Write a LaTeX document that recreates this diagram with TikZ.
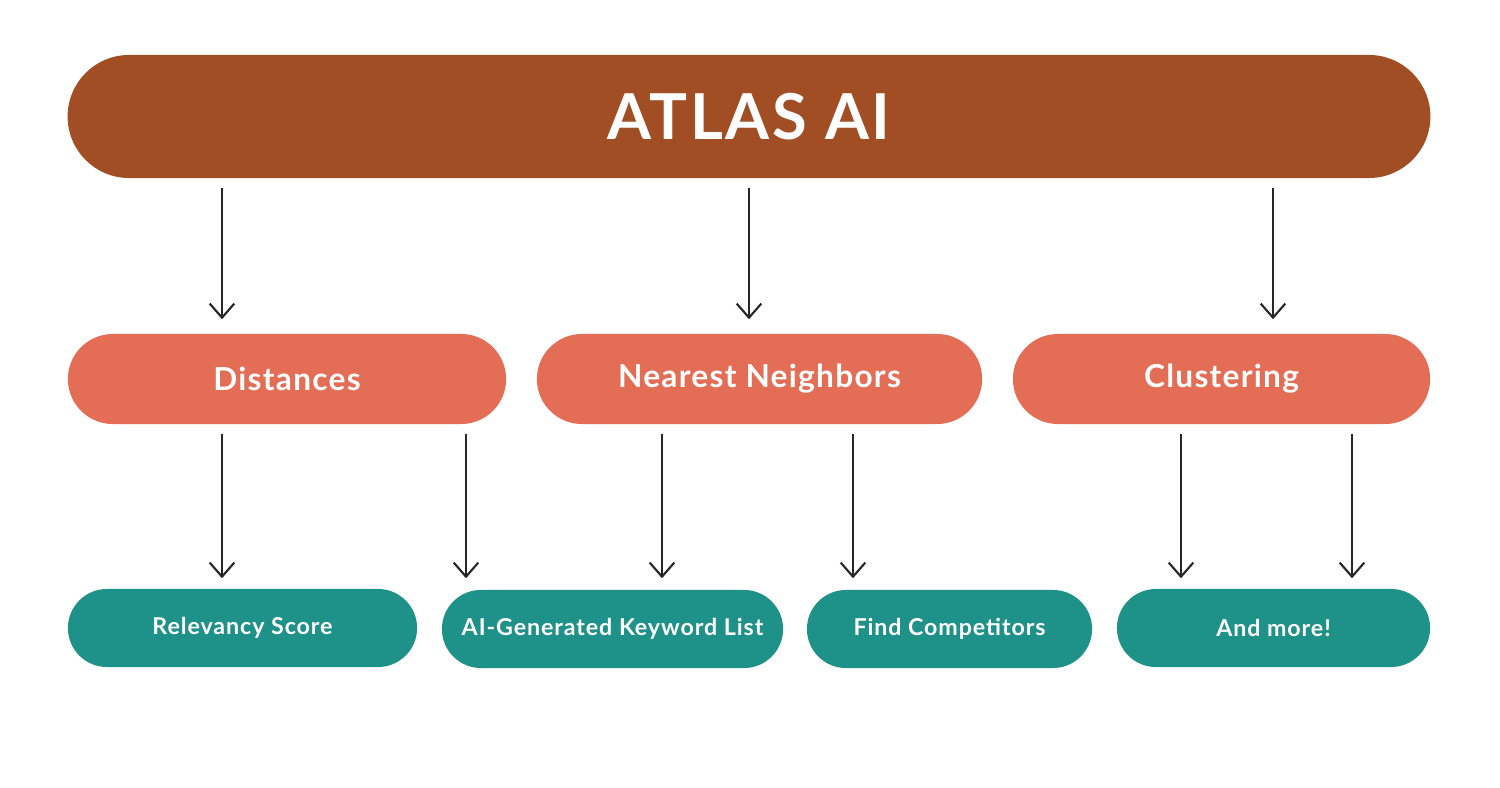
\documentclass[tikz,border=0pt]{standalone}
\usepackage{fontspec}
\setmainfont{Lato}[LetterSpace=4]
\usetikzlibrary{arrows.meta,calc}
\definecolor{atlasbrown}{HTML}{A24E25}
\definecolor{midred}{HTML}{E36D55}
\definecolor{lowteal}{HTML}{1E9188}
\tikzset{
  pill/.style={rectangle, rounded corners=#1, draw=none, text=white, font=\bfseries, inner sep=0pt},
  arr/.style={-{Straight Barb[length=4pt,width=7pt]}, line width=0.6pt, color=black!85}
}
\begin{document}
\begin{tikzpicture}[x=0.01cm,y=-0.01cm]
  \useasboundingbox[fill=white] (0,0) rectangle (1500,788);

  % top node
  \node[pill=0.615cm, fill=atlasbrown, minimum width=13.62cm, minimum height=1.23cm, font=\bfseries\fontsize{18}{20}\selectfont](atlas) at (749,116.5){ATLAS AI};

  % middle nodes
  \node[pill=0.45cm, fill=midred, minimum width=4.38cm, minimum height=0.9cm, font=\bfseries\fontsize{9}{10}\selectfont](dist) at (287,379){Distances};
  \node[pill=0.45cm, fill=midred, minimum width=4.45cm, minimum height=0.9cm, font=\bfseries\fontsize{9}{10}\selectfont](near) at (759.5,379){Nearest Neighbors};
  \node[pill=0.45cm, fill=midred, minimum width=4.17cm, minimum height=0.9cm, font=\bfseries\fontsize{9}{10}\selectfont](clus) at (1221.5,379){Clustering};

  % bottom nodes
  \node[pill=0.39cm, fill=lowteal, minimum width=3.49cm, minimum height=0.78cm, font=\bfseries\fontsize{6.6}{8}\selectfont](relev) at (242.5,628){Relevancy Score};
  \node[pill=0.39cm, fill=lowteal, minimum width=3.41cm, minimum height=0.78cm, font=\bfseries\fontsize{6.6}{8}\selectfont](keyw) at (612.5,629){AI-Generated Keyword List};
  \node[pill=0.39cm, fill=lowteal, minimum width=2.85cm, minimum height=0.78cm, font=\bfseries\fontsize{6.6}{8}\selectfont](comp) at (949.5,629){Find Competitors};
  \node[pill=0.39cm, fill=lowteal, minimum width=3.13cm, minimum height=0.78cm, font=\bfseries\fontsize{6.6}{8}\selectfont](more) at (1273.5,628){And more!};

  % draw top edges
  \draw[arr, shorten <=0.09cm, shorten >=0.14cm] (atlas.south -| 222,0) -- (dist.north -| 222,0);
  \draw[arr, shorten <=0.09cm, shorten >=0.14cm] (atlas.south -| 749,0) -- (near.north -| 749,0);
  \draw[arr, shorten <=0.09cm, shorten >=0.14cm] (atlas.south -| 1273,0) -- (clus.north -| 1273,0);

  % draw bottom edges
  \draw[arr, shorten <=0.09cm, shorten >=0.10cm] (dist.south -| 222,0) -- (relev.north -| 222,0);
  \draw[arr, shorten <=0.09cm, shorten >=0.11cm] (dist.south -| 466,0) -- (keyw.north -| 466,0);
  \draw[arr, shorten <=0.09cm, shorten >=0.11cm] (near.south -| 662,0) -- (keyw.north -| 662,0);
  \draw[arr, shorten <=0.09cm, shorten >=0.11cm] (near.south -| 853,0) -- (comp.north -| 853,0);
  \draw[arr, shorten <=0.09cm, shorten >=0.10cm] (clus.south -| 1181,0) -- (more.north -| 1181,0);
  \draw[arr, shorten <=0.09cm, shorten >=0.10cm] (clus.south -| 1352,0) -- (more.north -| 1352,0);
\end{tikzpicture}
\end{document}
